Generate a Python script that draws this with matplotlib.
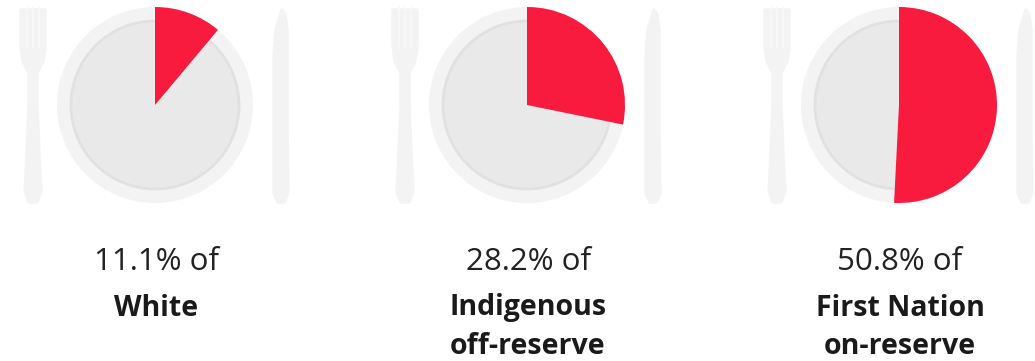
import matplotlib
matplotlib.use("Agg")
import matplotlib.pyplot as plt
from matplotlib.patches import Circle, Polygon

# Share of each population, in percent
groups = ["White", "Indigenous\noff-reserve", "First Nation\non-reserve"]
shares = [11.1, 28.2, 50.8]
share_labels = ["11.1% of", "28.2% of", "50.8% of"]

centres_x = [155, 527, 899]
CENTRE_Y = 105
R_OUTER = 98
R_INNER = 84
RED = "#f91b3d"
RIM = "#f3f3f3"
PLATE = "#e9e9e9"
EDGE = "#e1e1e1"
CUTLERY = "#f3f3f3"


def draw_fork(ax, cx):
    # Head with tines, neck, then a handle that widens towards the bottom
    verts = [(-12, -95), (-12, -60), (-10, -44), (-4, -32), (-4, 0), (-7, 70), (-8, 86),
             (-4, 97), (4, 97), (8, 86), (7, 70), (4, 0), (4, -32), (10, -44), (12, -60), (12, -95)]
    ax.add_patch(Polygon([(cx - 122 + x, CENTRE_Y + y) for x, y in verts], closed=True,
                         fc=CUTLERY, ec=CUTLERY, lw=2.5, joinstyle="round", zorder=1))
    for dx in (-6, 0, 6):
        ax.plot([cx - 122 + dx] * 2, [CENTRE_Y - 98, CENTRE_Y - 58],
                color="#f8f8f8", lw=1.2, zorder=2)


def draw_knife(ax, cx):
    verts = [(1, -95), (-5, -75), (-7, -50), (-7, 88), (-3, 97), (3, 97), (7, 88),
             (6, 25), (6, 10), (6, -75), (4, -90)]
    ax.add_patch(Polygon([(cx + 126 + x, CENTRE_Y + y) for x, y in verts], closed=True,
                         fc=CUTLERY, ec=CUTLERY, lw=2.5, joinstyle="round", zorder=1))


fig = plt.figure(figsize=(10.35, 3.61), dpi=100, facecolor="white")
ax = fig.add_axes([0, 0, 1, 1])

for cx, share, head, group in zip(centres_x, shares, share_labels, groups):
    draw_fork(ax, cx)
    draw_knife(ax, cx)
    ax.add_patch(Circle((cx, CENTRE_Y), R_OUTER, fc=RIM, ec="none", zorder=2))
    ax.add_patch(Circle((cx, CENTRE_Y), R_INNER, fc=PLATE, ec=EDGE, lw=2, zorder=3))

    # The y axis runs downward, so starting at -90 degrees and increasing the angle
    # sweeps clockwise from twelve o'clock on screen
    ax.pie([share, 100 - share], center=(cx, CENTRE_Y), radius=R_OUTER,
           startangle=-90, counterclock=True, colors=[RED, "none"],
           wedgeprops={"linewidth": 0, "zorder": 4}, frame=False)

    ax.text(cx + 1, 262, head, ha="center", va="center", fontsize=22.5,
            family="Open Sans", color="#222222")
    for line, y in zip(group.split("\n"), (308, 346)):
        ax.text(cx + 1, y, line, ha="center", va="center", fontsize=20.5,
                family="Open Sans", fontweight="bold", color="#1a1a1a")

ax.set_xlim(0, 1035)
ax.set_ylim(361, 0)
ax.set_aspect("equal")
ax.axis("off")

fig.savefig("out.png", dpi=100, facecolor="white")
